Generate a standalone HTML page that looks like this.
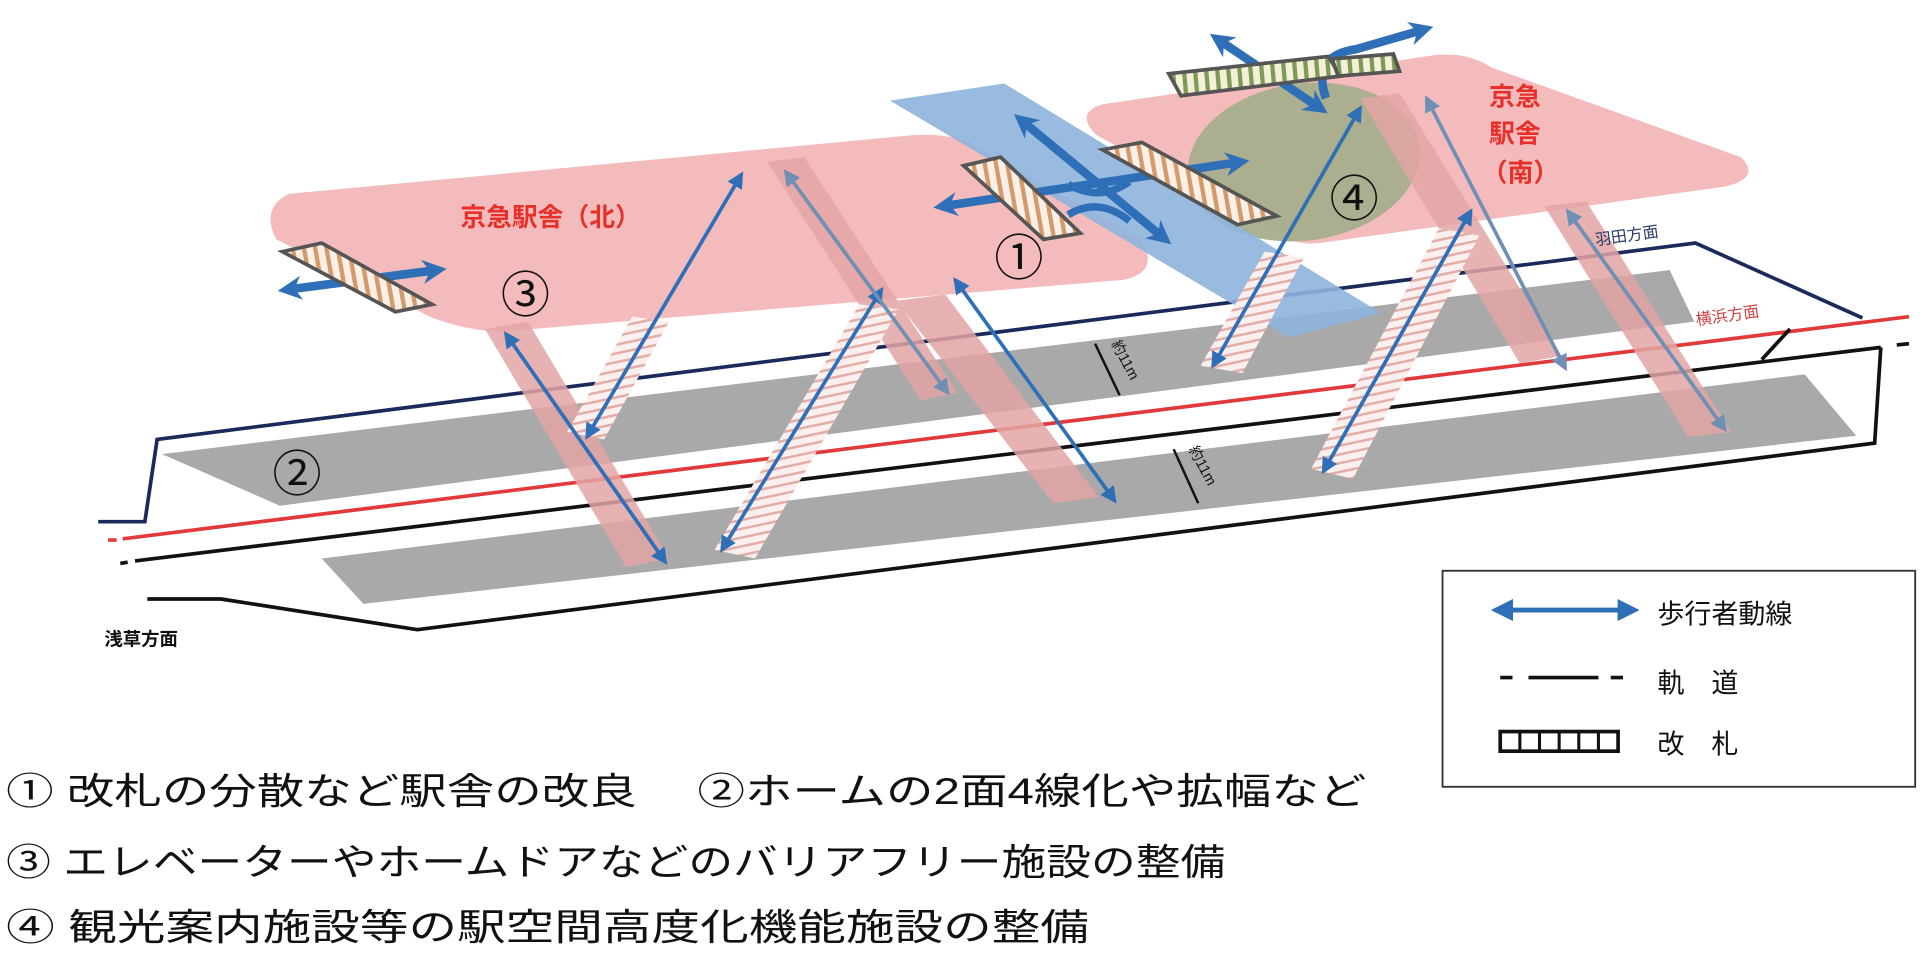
<!DOCTYPE html>
<html><head><meta charset="utf-8"><style>
html,body{margin:0;padding:0;background:#fff;overflow:hidden}
svg{display:block}
text{font-family:"Liberation Sans","Noto Sans CJK JP",sans-serif}
</style></head><body>
<svg width="1925" height="966" viewBox="0 0 1568 787" preserveAspectRatio="none" xmlns="http://www.w3.org/2000/svg">
<defs>
<marker id="ah" viewBox="0 0 10 10" refX="8" refY="5" markerWidth="4.5" markerHeight="4.5" orient="auto-start-reverse"><path d="M0,0 L10,5 L0,10 Z" fill="#2e6fb7"/></marker>
<marker id="ahg" viewBox="0 0 10 10" refX="8" refY="5" markerWidth="4.5" markerHeight="4.5" orient="auto-start-reverse"><path d="M0,0 L10,5 L0,10 Z" fill="#6f8fb5"/></marker>
<marker id="aht" viewBox="0 0 10 10" refX="6" refY="5" markerWidth="2.8" markerHeight="2.8" orient="auto-start-reverse"><path d="M0,0 L10,5 L0,10 L3,5 Z" fill="#2e6fb7"/></marker>
<pattern id="stair" width="10" height="7" patternUnits="userSpaceOnUse" patternTransform="rotate(-12)"><rect width="10" height="7" fill="#fbefef"/><rect width="10" height="2" fill="#e3aca4"/></pattern>
<pattern id="gate" width="9" height="9" patternUnits="userSpaceOnUse" patternTransform="rotate(-10)"><rect width="9" height="9" fill="#fbf0e8"/><rect width="3.5" height="9" fill="#d49a6a"/></pattern>
<pattern id="gate2" width="9" height="9" patternUnits="userSpaceOnUse" patternTransform="rotate(-5)"><rect width="9" height="9" fill="#f4f0d8"/><rect width="3.5" height="9" fill="#7e9a58"/></pattern>
</defs>

<polygon points="132,370 1360,220 1380,262 228,412" fill="#a9a9a9"/>
<polygon points="262,455 1470,305 1512,355 296,492" fill="#a9a9a9"/>

<path d="M80,425 L118,425 L128,358 L1381,198 L1517,259" fill="none" stroke="#1b2a5a" stroke-width="3"/>
<path d="M88,440 L95,440 M100,439 L1555,258" fill="none" stroke="#e23a3a" stroke-width="3"/>
<path d="M98,459 L104,458 M110,457 L1532,283 M1545,281 L1555,280" fill="none" stroke="#111" stroke-width="3"/>
<path d="M1532,283 L1527,361 L340,513 L180,488 L120,488 M1435,293 L1458,268" fill="none" stroke="#111" stroke-width="3"/>

<path d="M235,158 L745,110 Q780,108 800,122 L930,195 Q945,222 915,228 L410,270 Q380,270 350,258 L225,195 Q212,170 235,158 Z" fill="#f2b4b4" opacity="0.9"/>
<path d="M898,85 L1168,45 Q1195,42 1215,55 L1418,128 Q1435,145 1405,152 L1075,198 Q1055,200 1040,190 L893,110 Q875,92 898,85 Z" fill="#f2b4b4" opacity="0.9"/>
<ellipse cx="1062" cy="132" rx="95" ry="64" transform="rotate(-8 1062 132)" fill="#a7ae8c" opacity="0.95"/>
<polygon points="725,82 818,68 1125,255 1050,275" fill="#8fb4dd" opacity="0.9"/>

<g fill="#e3a4a4" opacity="0.85">
<polygon points="395,268 430,262 545,455 510,462"/>
<polygon points="625,132 655,128 780,320 750,326"/>
<polygon points="730,245 770,240 895,405 858,410"/>
<polygon points="1108,80 1140,76 1272,290 1238,296"/>
<polygon points="1258,168 1292,164 1410,352 1375,356"/>
</g>
<g fill="url(#stair)">
<polygon points="462,352 492,358 545,262 515,258"/>
<polygon points="582,448 615,455 732,252 700,248"/>
<polygon points="978,298 1012,304 1062,210 1030,205"/>
<polygon points="1068,382 1102,390 1205,192 1172,186"/>
</g>

<g stroke="#2e6fb7" stroke-width="3" fill="none" marker-start="url(#ah)" marker-end="url(#ah)">
<line x1="412" y1="272" x2="542" y2="458"/>
<line x1="478" y1="356" x2="604" y2="142"/>
<line x1="588" y1="448" x2="718" y2="236"/>
<line x1="778" y1="228" x2="908" y2="408"/>
<line x1="988" y1="298" x2="1108" y2="88"/>
<line x1="1078" y1="384" x2="1198" y2="172"/>
</g>
<g stroke="#6f8fb5" stroke-width="3" fill="none" marker-start="url(#ahg)" marker-end="url(#ahg)">
<line x1="640" y1="140" x2="772" y2="320"/>
<line x1="1162" y1="80" x2="1275" y2="300"/>
<line x1="1277" y1="172" x2="1405" y2="350"/>
</g>

<g stroke="#2e6fb7" stroke-width="7" fill="none" marker-start="url(#aht)" marker-end="url(#aht)">
<line x1="234" y1="236" x2="356" y2="220"/>
<line x1="768" y1="168" x2="1010" y2="132"/>
<line x1="832" y1="98" x2="948" y2="194"/>
<line x1="992" y1="32" x2="1075" y2="88"/>
</g>
<path d="M1080,80 Q1068,45 1105,40 L1160,24" stroke="#2e6fb7" stroke-width="7" fill="none" marker-end="url(#aht)"/>
<g stroke="#2e6fb7" stroke-width="6" fill="none">
<path d="M870,150 Q895,165 920,148 M870,175 Q895,160 920,180"/>
</g>

<g stroke="#555" stroke-width="3" fill="url(#gate)">
<polygon points="230,205 262,198 352,248 322,254"/>
<polygon points="785,135 815,128 880,190 850,195"/>
<polygon points="898,122 930,116 1040,176 1008,183"/>
<polygon points="952,60 1082,46 1092,62 962,78" fill="url(#gate2)"/>
<polygon points="1085,48 1135,44 1140,58 1090,62" fill="url(#gate2)"/>
</g>

<text x="375" y="184" font-size="21" fill="#e8302a" font-weight="bold">京急駅舎（北）</text>
<text x="1213" y="86" font-size="21" fill="#e8302a" font-weight="bold">京急</text>
<text x="1213" y="116" font-size="21" fill="#e8302a" font-weight="bold">駅舎</text>
<text x="1207" y="148" font-size="21" fill="#e8302a" font-weight="bold">（南）</text>
<g font-size="40" fill="#111">
<text x="810" y="224">①</text>
<text x="222" y="400">②</text>
<text x="408" y="254">③</text>
<text x="1083" y="176">④</text>
</g>
<text x="1300" y="200" font-size="13" fill="#2a3a6a" transform="rotate(-8 1300 200)">羽田方面</text>
<text x="1382" y="265" font-size="13" fill="#d04040" transform="rotate(-8 1382 265)">横浜方面</text>
<g stroke="#111" stroke-width="2">
<line x1="892" y1="280" x2="912" y2="322"/><line x1="956" y1="366" x2="976" y2="410"/>
</g>
<text x="905" y="280" font-size="12" fill="#111" transform="rotate(62 905 280)">約11m</text>
<text x="968" y="366" font-size="12" fill="#111" transform="rotate(62 968 366)">約11m</text>
<text x="85" y="526" font-size="15" font-weight="bold" fill="#111">浅草方面</text>

<rect x="1175" y="465" width="385" height="176" fill="#fff" stroke="#333" stroke-width="1.5"/>
<line x1="1218" y1="497" x2="1332" y2="497" stroke="#2e6fb7" stroke-width="4" marker-start="url(#ah)" marker-end="url(#ah)"/>
<text x="1350" y="508" font-size="22" fill="#111">歩行者動線</text>
<path d="M1222,552 L1232,552 M1245,552 L1302,552 M1312,552 L1322,552" stroke="#111" stroke-width="3"/>
<text x="1350" y="564" font-size="22" fill="#111">軌　道</text>
<rect x="1222" y="596" width="96" height="16" fill="#fff" stroke="#111" stroke-width="3"/>
<path d="M1238,596 V612 M1254,596 V612 M1270,596 V612 M1286,596 V612 M1302,596 V612" stroke="#111" stroke-width="2.5"/>
<text x="1350" y="614" font-size="22" fill="#111">改　札</text>

<g font-size="30" fill="#111">
<text x="5" y="655" textLength="1108" lengthAdjust="spacingAndGlyphs">①  改札の分散など駅舎の改良　  ②ホームの2面4線化や拡幅など</text>
<text x="5" y="713" textLength="993" lengthAdjust="spacingAndGlyphs">③  エレベーターやホームドアなどのバリアフリー施設の整備</text>
<text x="5" y="766" textLength="882" lengthAdjust="spacingAndGlyphs">④  観光案内施設等の駅空間高度化機能施設の整備</text>
</g>
</svg>
</body></html>
